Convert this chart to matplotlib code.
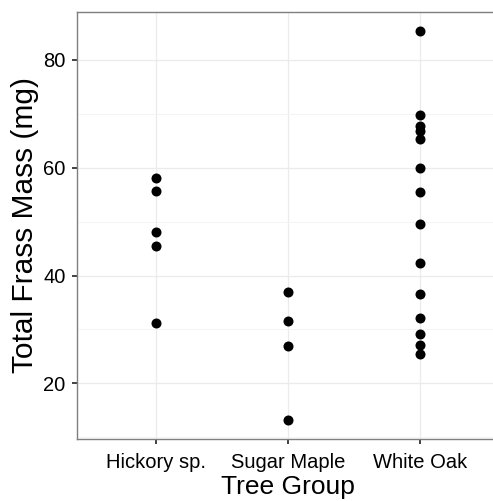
import matplotlib
matplotlib.use('Agg')
import matplotlib.pyplot as plt
import numpy as np

plt.rcParams['font.family'] = ['Liberation Sans', 'DejaVu Sans']

groups = ['Hickory sp.', 'Sugar Maple', 'White Oak']
hickory = [58.0, 55.7, 48.0, 45.4, 31.2]
sugar_maple = [36.9, 31.5, 27.0, 13.2]
white_oak = [85.4, 69.7, 67.7, 66.7, 65.3, 59.9, 55.4, 49.6, 42.3, 36.5, 32.2, 29.1, 27.1, 25.5]
yticks = [20, 40, 60, 80]
yminor = [10, 30, 50, 70]

fig = plt.figure(figsize=(4.93, 5.01), dpi=100)
ax = fig.add_axes([0.157, 0.1238, 0.855, 0.8528])

for i, vals in enumerate([hickory, sugar_maple, white_oak]):
    ax.scatter(np.full(len(vals), i + 1), vals, s=52, color='black', zorder=3, linewidths=0)

ax.set_xlim(0.4, 3.6)
ax.set_ylim(9.7, 88.9)
ax.set_xticks([1, 2, 3])
ax.set_xticklabels(groups)
ax.set_yticks(yticks)
ax.set_yticks(yminor, minor=True)

ax.grid(True, which='major', color='#EBEBEB', linewidth=0.9, zorder=0)
ax.grid(True, which='minor', axis='y', color='#F4F4F4', linewidth=0.7, zorder=0)
ax.set_axisbelow(True)

for s in ax.spines.values():
    s.set_color('#7F7F7F')
    s.set_linewidth(1.0)
ax.spines['right'].set_visible(False)

ax.tick_params(axis='both', which='major', length=3.5, width=1.3, color='#333333',
               labelsize=14.5, labelcolor='black')
ax.tick_params(axis='x', which='major', pad=6.5)
ax.tick_params(axis='y', which='major', pad=5)
ax.tick_params(axis='y', which='minor', length=0)

ax.set_xlabel('Tree Group', fontsize=19, labelpad=2)
ax.set_ylabel('Total Frass Mass (mg)', fontsize=21.5, labelpad=3)

fig.savefig('out.png', dpi=100)
